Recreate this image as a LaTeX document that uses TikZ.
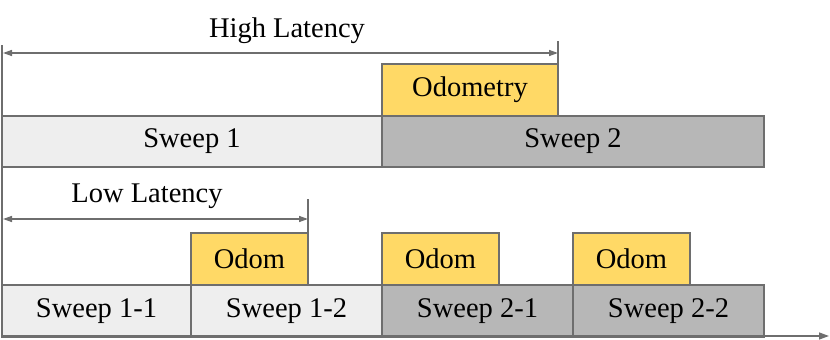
\documentclass[tikz,border=0pt]{standalone}
\usepackage{fontspec}
\setmainfont{Liberation Serif}
\usetikzlibrary{arrows.meta}
\definecolor{lineg}{RGB}{110,110,110}
\definecolor{lightsw}{RGB}{238,238,238}
\definecolor{darksw}{RGB}{183,183,183}
\definecolor{odomc}{RGB}{255,217,102}
\begin{document}
\begin{tikzpicture}[x=1pt,y=-1pt,
  blk/.style={draw=lineg,line width=1.6pt,anchor=north west,inner sep=0pt,outer sep=0pt,
    font=\fontsize{28.5}{32}\selectfont,text=black},
  swA/.style={blk,fill=lightsw},
  swB/.style={blk,fill=darksw},
  odo/.style={blk,fill=odomc},
  ln/.style={draw=lineg,line width=1.4pt},
  latarrow/.style={ln,{Triangle[length=9pt,width=6pt]}-{Triangle[length=9pt,width=6pt]}},
  lbl/.style={font=\fontsize{28.5}{32}\selectfont,text=black,inner sep=0pt}]
\useasboundingbox (0,0) rectangle (830,340);
% top row
\node[swA,minimum width=380pt,minimum height=51pt] (s1) at (2,116) {Sweep 1};
\node[swB,minimum width=382pt,minimum height=51pt] (s2) at (382,116) {Sweep 2};
\node[odo,minimum width=176pt,minimum height=52pt] (od) at (382,64) {Odometry};
% bottom row
\node[swA,minimum width=189pt,minimum height=52pt] (s11) at (2,285) {Sweep 1-1};
\node[swA,minimum width=191pt,minimum height=52pt] (s12) at (191,285) {Sweep 1-2};
\node[swB,minimum width=191pt,minimum height=52pt] (s21) at (382,285) {Sweep 2-1};
\node[swB,minimum width=191pt,minimum height=52pt] (s22) at (573,285) {Sweep 2-2};
\node[odo,minimum width=117pt,minimum height=52pt] (o1) at (191,233) {Odom};
\node[odo,minimum width=117pt,minimum height=52pt] (o2) at (382,233) {Odom};
\node[odo,minimum width=117pt,minimum height=52pt] (o3) at (573,233) {Odom};
% axes
\coordinate (vtop) at (2,45);
\coordinate (origin) at (2,336);
\coordinate (tend) at (829,336);
\draw[ln] (vtop) -- (origin);
\draw[ln,-{Triangle[length=10pt,width=7pt]}] (origin) -- (tend);
% high latency
\coordinate (hlL) at (3,53);
\coordinate (hlR) at (558,53);
\coordinate (hlT) at (558,41);
\draw[latarrow] (hlL) -- (hlR);
\draw[ln] (hlT) -- (od.north east);
\node[lbl] (hltext) at (287,31) {High Latency};
% low latency
\coordinate (llL) at (3,219);
\coordinate (llR) at (308,219);
\coordinate (llT) at (308,199);
\draw[latarrow] (llL) -- (llR);
\draw[ln] (llT) -- (o1.north east);
\node[lbl] (lltext) at (147,196) {Low Latency};
\end{tikzpicture}
\end{document}
